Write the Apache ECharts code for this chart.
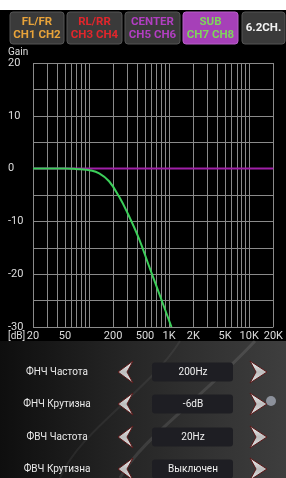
<!DOCTYPE html>
<html lang="ru">
<head>
<meta charset="UTF-8">
<title>SUB crossover</title>
<style>
  html, body { margin: 0; padding: 0; background: #fff; }
  #chartContainer { width: 286px; height: 478px; }
</style>
<script src="https://cdnjs.cloudflare.com/ajax/libs/echarts/6.0.0/echarts.min.js"></script>
</head>
<body>
<div id="chartContainer"></div>
<script>
// --- data ---
const gridFreqs = [20, 30, 40, 50, 60, 70, 80, 90, 100, 200, 300, 400, 500, 600, 700, 800, 900,
    1000, 2000, 3000, 4000, 5000, 6000, 7000, 8000, 9000, 10000, 20000];
const labelFreqs = [20, 50, 200, 500, 1000, 2000, 5000, 10000, 20000];
const subFlat = [[20, 0], [20000, 0]];
const lowPass = [[20, 0], [50, 0], [65, -0.05], [80, -0.12], [101, -0.3], [134, -0.9], [178, -2.4],
    [237, -5.3], [298, -8.2], [419, -13.2], [556, -18.3], [740, -23.4], [1070, -30]];

const tabTop = ['FL/FR', 'RL/RR', 'CENTER', 'SUB', '6.2CH.'];
const tabBottom = ['CH1 CH2', 'CH3 CH4', 'CH5 CH6', 'CH7 CH8', ''];
const tabColors = ['#e8a33a', '#e0262c', '#b23ec2', '#7fd45c', '#f2f2f2'];
const selectedTab = 3;

const ctrlLabels = ['ФНЧ Частота', 'ФНЧ Крутизна', 'ФВЧ Частота', 'ФВЧ Крутизна'];
const ctrlValues = ['200Hz', '-6dB', '20Hz', 'Выключен'];

var chartDom = document.getElementById('chartContainer');
var myChart = echarts.init(chartDom);

const FONT = 'Roboto';

// top tabs
const tabX = [10, 67, 125, 183, 242];
const tabW = [54, 55, 55, 55, 43];
let graphics = [];

graphics.push({ type: 'rect', z: -10, shape: { x: 0, y: 0, width: 286, height: 478 }, style: { fill: '#000' } });
graphics.push({ type: 'rect', z: -9, shape: { x: 0, y: 0, width: 286, height: 10 }, style: { fill: '#fff' } });

tabTop.forEach((t, i) => {
    const sel = i === selectedTab;
    graphics.push({
        type: 'rect', z: 1,
        shape: { x: tabX[i], y: 12, width: tabW[i], height: 32, r: 3 },
        style: { fill: sel ? '#a640b8' : '#3a3a3a', stroke: sel ? '#b860c8' : '#555', lineWidth: 1 }
    });
    const cx = tabX[i] + tabW[i] / 2;
    if (tabBottom[i]) {
        graphics.push({ type: 'text', z: 2, x: cx, y: 22.5, style: { text: t, fill: tabColors[i], font: 'bold 11.5px ' + FONT, align: 'center', verticalAlign: 'middle' } });
        graphics.push({ type: 'text', z: 2, x: cx, y: 35, style: { text: tabBottom[i], fill: tabColors[i], font: 'bold 11.5px ' + FONT, align: 'center', verticalAlign: 'middle' } });
    } else {
        graphics.push({ type: 'text', z: 2, x: cx, y: 28.5, style: { text: t, fill: tabColors[i], font: 'bold 11.5px ' + FONT, align: 'center', verticalAlign: 'middle' } });
    }
});

graphics.push({ type: 'text', z: 2, x: 8, y: 52, style: { text: 'Gain', fill: '#ddd', font: '10px ' + FONT, verticalAlign: 'middle' } });
graphics.push({ type: 'text', z: 2, x: 8, y: 336, style: { text: '[dB]', fill: '#ddd', font: '10px ' + FONT, verticalAlign: 'middle' } });

// bottom panel
graphics.push({
    type: 'rect', z: -5,
    shape: { x: 0, y: 341, width: 286, height: 137 },
    style: {
        fill: new echarts.graphic.LinearGradient(0, 0, 1, 0, [
            { offset: 0, color: '#0e0e0e' },
            { offset: 0.45, color: '#262626' },
            { offset: 1, color: '#3e3e3e' }
        ])
    }
});
graphics.push({ type: 'bezierCurve', z: -4, shape: { x1: 255, y1: 341, x2: 120, y2: 478, cpx1: 200, cpy1: 400, cpx2: 140, cpy2: 440 }, style: { stroke: 'rgba(255,255,255,0.10)', lineWidth: 3, fill: null } });
graphics.push({ type: 'bezierCurve', z: -4, shape: { x1: 180, y1: 341, x2: 60, y2: 478, cpx1: 150, cpy1: 390, cpx2: 80, cpy2: 430 }, style: { stroke: 'rgba(255,255,255,0.06)', lineWidth: 2, fill: null } });

const rowY = [372, 404, 437, 469];
const silver = () => new echarts.graphic.LinearGradient(0, 0, 0, 1, [
    { offset: 0, color: '#f4f4f4' }, { offset: 0.5, color: '#bdbdbd' }, { offset: 1, color: '#e6e6e6' }
]);
ctrlLabels.forEach((lab, i) => {
    const y = rowY[i];
    graphics.push({ type: 'text', z: 2, x: 57, y: y, style: { text: lab, fill: '#e8e8e8', font: '10px ' + FONT, align: 'center', verticalAlign: 'middle' } });
    graphics.push({ type: 'rect', z: 1, shape: { x: 152, y: y - 9.5, width: 81, height: 19, r: 3 }, style: { fill: '#1e1e23' } });
    graphics.push({ type: 'text', z: 2, x: 193, y: y, style: { text: ctrlValues[i], fill: '#f0f0f0', font: '10px ' + FONT, align: 'center', verticalAlign: 'middle' } });
    graphics.push({
        type: 'polygon', z: 2,
        shape: { points: [[118, y], [133, y - 11], [127, y], [133, y + 11]] },
        style: { fill: silver(), stroke: '#5a1818', lineWidth: 1 }
    });
    graphics.push({
        type: 'polygon', z: 2,
        shape: { points: [[267, y], [250, y - 11], [256, y], [250, y + 11]] },
        style: { fill: silver(), stroke: '#5a1818', lineWidth: 1 }
    });
});
graphics.push({ type: 'circle', z: 3, shape: { cx: 271, cy: 401, r: 5 }, style: { fill: '#8c919b' } });

const option = {
    backgroundColor: 'transparent',
    animation: false,
    textStyle: { fontFamily: FONT },
    graphic: graphics,
    grid: { left: 33, right: 10, top: 63, bottom: 151, containLabel: false },
    xAxis: {
        type: 'log',
        logBase: 10,
        min: 20,
        max: 20000,
        axisLine: { show: false },
        axisTick: { show: false, customValues: gridFreqs },
        splitLine: { show: true, lineStyle: { color: '#8a8a8a', width: 1 } },
        axisLabel: {
            customValues: labelFreqs,
            color: '#ddd',
            fontSize: 11,
            margin: 4,
            formatter: v => {
                v = Math.round(v);
                return v >= 1000 ? (v / 1000) + 'K' : String(v);
            }
        }
    },
    yAxis: {
        type: 'value',
        min: -30,
        max: 20,
        interval: 5,
        axisLine: { show: false },
        axisTick: { show: false },
        splitLine: { show: true, lineStyle: { color: '#8a8a8a', width: 1 } },
        axisLabel: {
            color: '#ddd',
            fontSize: 11,
            align: 'left',
            margin: 25,
            formatter: v => (v % 10 === 0 ? String(v) : '')
        }
    },
    series: [
        {
            type: 'line',
            data: subFlat,
            symbol: 'none',
            lineStyle: { color: '#a020a8', width: 2 },
            z: 3
        },
        {
            type: 'line',
            data: lowPass,
            symbol: 'none',
            smooth: 0.4,
            lineStyle: { color: '#3ccf5a', width: 2 },
            z: 4
        }
    ]
};

myChart.setOption(option);
</script>
</body>
</html>
